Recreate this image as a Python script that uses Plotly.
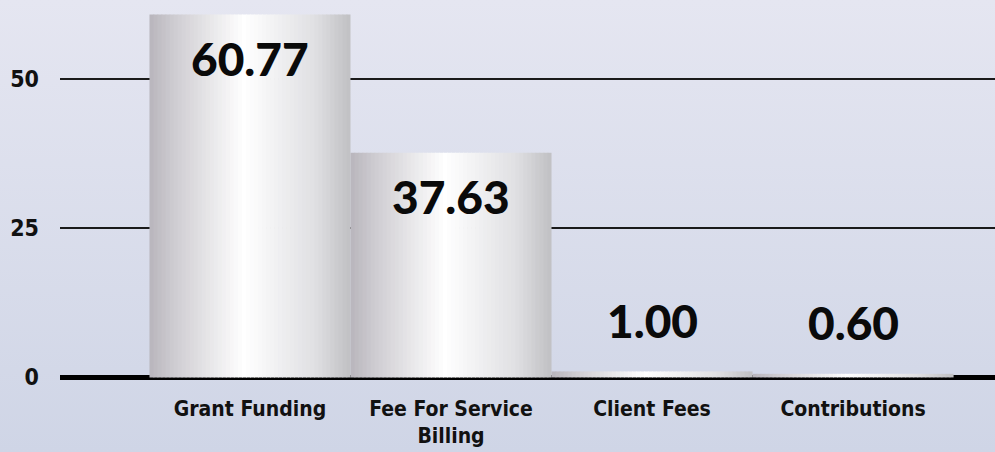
import base64
import plotly.graph_objects as go

# ---- data ----
categories = ["Grant Funding", "Fee For Service Billing", "Client Fees", "Contributions"]
tick_labels = ["Grant Funding", "Fee For Service<br>Billing", "Client Fees", "Contributions"]
values = [60.77, 37.63, 1.00, 0.60]
y_ticks = [0, 25, 50]

# ---- style ----
W, H = 995, 452
ML, MR, MT, MB = 60, 0, 0, 71
plot_w = W - ML - MR
plot_h = H - MT - MB
LABEL_FONT = "'Liberation Sans Narrow', 'DejaVu Sans Condensed', 'Open Sans Condensed', sans-serif"

grad_stops = [
    (0.00, (184, 181, 188)),
    (0.12, (206, 204, 209)),
    (0.47, (255, 255, 255)),
    (0.82, (224, 224, 227)),
    (1.00, (192, 192, 195)),
]


def grad_color(t):
    for (t0, c0), (t1, c1) in zip(grad_stops[:-1], grad_stops[1:]):
        if t0 <= t <= t1:
            f = (t - t0) / (t1 - t0)
            c = [round(a + (b - a) * f) for a, b in zip(c0, c1)]
            return f"rgb({c[0]},{c[1]},{c[2]})"
    c = grad_stops[-1][1]
    return f"rgb({c[0]},{c[1]},{c[2]})"


fig = go.Figure()

N = 50
for i in range(N):
    t = (i + 0.5) / N
    fig.add_trace(go.Bar(
        x=categories, y=values,
        width=1.0 / N * 1.2 if i < N - 1 else 1.0 / N,
        offset=-0.5 + i / N,
        marker=dict(color=grad_color(t), line=dict(width=0)),
        hoverinfo="skip", showlegend=False,
    ))

# value labels
for c, v in zip(categories, values):
    inside = v > 10
    fig.add_annotation(
        x=c, y=v, text=f"{v:.2f}", showarrow=False,
        yanchor="middle", yshift=-44 if inside else 51,
        font=dict(family="Lato", size=46, color="#0a0a0a", weight=900),
    )

svg = (
    '<svg xmlns="http://www.w3.org/2000/svg" width="10" height="100" viewBox="0 0 10 100" '
    'preserveAspectRatio="none"><defs><linearGradient id="g" x1="0" y1="0" x2="0" y2="1">'
    '<stop offset="0" stop-color="#e5e6f1"/><stop offset="1" stop-color="#cfd5e6"/>'
    '</linearGradient></defs><rect width="10" height="100" fill="url(#g)"/></svg>'
)
src = "data:image/svg+xml;base64," + base64.b64encode(svg.encode()).decode()

fig.add_layout_image(dict(
    source=src, xref="paper", yref="paper",
    x=-ML / plot_w, y=1 + MT / plot_h, sizex=W / plot_w, sizey=H / plot_h,
    xanchor="left", yanchor="top", sizing="stretch", layer="below",
))

fig.update_layout(
    width=W, height=H,
    margin=dict(l=ML, r=MR, t=MT, b=MB),
    barmode="overlay",
    paper_bgcolor="#dadeeb",
    plot_bgcolor="rgba(0,0,0,0)",
    xaxis=dict(
        type="category", range=[-0.945, 3.706],
        tickvals=categories, ticktext=tick_labels,
        tickfont=dict(family=LABEL_FONT, size=21, color="#111", weight="bold"),
        showgrid=False, showline=False, ticks="", ticklabelstandoff=13,
    ),
    yaxis=dict(
        range=[-0.6, 63.2], tickvals=y_ticks,
        tickfont=dict(family=LABEL_FONT, size=23, color="#111", weight="bold"),
        showgrid=True, gridcolor="#1a1a1a", gridwidth=1.5,
        zeroline=True, zerolinecolor="#000", zerolinewidth=5,
        ticks="", ticklabelstandoff=20,
    ),
)

fig.write_html(
    "out.html",
    config={"displayModeBar": False},
    post_script="document.body.style.margin='0';document.body.style.overflow='hidden';",
)
